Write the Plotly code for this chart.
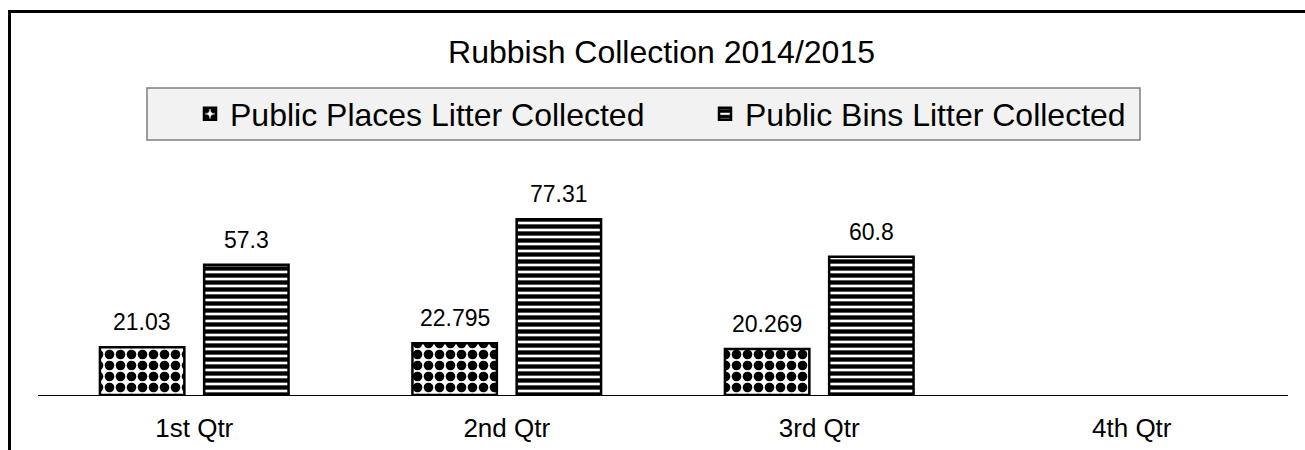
import plotly.graph_objects as go

categories = ["1st Qtr", "2nd Qtr", "3rd Qtr", "4th Qtr"]
places_values = [21.03, 22.795, 20.269, None]
bins_values = [57.3, 77.31, 60.8, None]
series_names = ["Public Places Litter Collected", "Public Bins Litter Collected"]
title_text = "Rubbish Collection 2014/2015"

W, H = 1305, 450
ML, MR, MT, MB = 38, 17, 195, 55
YMAX = 88
BARGAP, BARGROUPGAP = 0.333, 0.19
FONT = "Liberation Sans, Arial, sans-serif"

fig = go.Figure()
fig.add_trace(go.Bar(
    name=series_names[0], x=categories, y=places_values, legend="legend",
    marker=dict(color="white", opacity=1, line=dict(color="black", width=2.5),
                pattern=dict(shape=".", size=11, solidity=0.6, fgcolor="#000000",
                             fgopacity=1, bgcolor="#ffffff", fillmode="replace")),
))
fig.add_trace(go.Bar(
    name=series_names[1], x=categories, y=bins_values, legend="legend2",
    marker=dict(color="white", opacity=1, line=dict(color="black", width=2.5),
                pattern=dict(shape="-", size=7, solidity=0.62, fgcolor="#000000",
                             fgopacity=1, bgcolor="#ffffff", fillmode="replace")),
))

plot_w = W - ML - MR
plot_h = H - MT - MB
slot = plot_w / len(categories) * (1 - BARGAP) / 2
annotations = []
for si, vals in enumerate([places_values, bins_values]):
    shift = (si - 0.5) * slot
    for c, v in zip(categories, vals):
        if v is None:
            continue
        annotations.append(dict(x=c, y=v, xref="x", yref="y", text=str(v), showarrow=False,
                                xshift=shift, yshift=10, yanchor="bottom",
                                font=dict(family=FONT, size=23, color="black")))


def px2x(px):
    return (px - ML) / plot_w


def py2y(py):
    return (H - MB - py) / plot_h


legend_common = dict(orientation="h", xanchor="left", yanchor="middle", y=py2y(114),
                     bgcolor="rgba(0,0,0,0)", borderwidth=0,
                     font=dict(family=FONT, size=32, color="black"))

fig.update_layout(
    width=W, height=H,
    margin=dict(l=ML, r=MR, t=MT, b=MB, autoexpand=False),
    paper_bgcolor="white", plot_bgcolor="white",
    barmode="group", bargap=BARGAP, bargroupgap=BARGROUPGAP,
    font=dict(family=FONT, color="black"),
    title=dict(text=title_text, x=661.5 / W, xanchor="center", xref="container",
               y=1 - 52 / H, yanchor="middle", yref="container",
               font=dict(family=FONT, size=32, color="black")),
    showlegend=True,
    legend=dict(x=px2x(190), **legend_common),
    legend2=dict(x=px2x(705), **legend_common),
    xaxis=dict(type="category", categoryorder="array", categoryarray=categories,
               range=[-0.5, 3.5], showline=True, linecolor="black", linewidth=1.2,
               ticks="", showgrid=False, ticklabelstandoff=10, automargin=False,
               tickfont=dict(family=FONT, size=26, color="black"), fixedrange=True),
    yaxis=dict(visible=False, range=[0, YMAX], showgrid=False, zeroline=False,
               automargin=False, fixedrange=True),
    annotations=annotations,
    shapes=[
        # legend frame
        dict(type="rect", xref="paper", yref="paper",
             x0=px2x(147), x1=px2x(1140), y0=py2y(140), y1=py2y(88),
             line=dict(color="#7f7f7f", width=1.5), fillcolor="#f2f2f2", layer="below"),
        # outer chart border (partly outside the page, as in the source image)
        dict(type="rect", xref="paper", yref="paper",
             x0=px2x(9.5), x1=px2x(1330), y0=py2y(480), y1=py2y(11.5),
             line=dict(color="black", width=3), fillcolor="rgba(0,0,0,0)", layer="above"),
    ],
)

fig.write_html("out.html", config={"displayModeBar": False},
               post_script="document.body.style.margin='0';document.body.style.overflow='hidden';")
